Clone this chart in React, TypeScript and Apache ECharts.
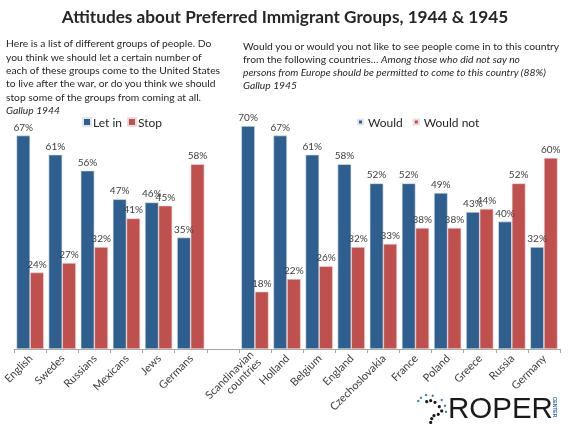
import React, { useEffect, useRef } from "react";
import * as echarts from "echarts";

const categories = [
  "English", "Swedes", "Russians", "Mexicans", "Jews", "Germans", "",
  "Scandinavian\ncountries", "Holland", "Belgium", "England", "Czechoslovakia",
  "France", "Poland", "Greece", "Russia", "Germany",
];
const letIn = [67, 61, 56, 47, 46, 35, null, null, null, null, null, null, null, null, null, null, null];
const stop = [24, 27, 32, 41, 45, 58, null, null, null, null, null, null, null, null, null, null, null];
const would = [null, null, null, null, null, null, null, 70, 67, 61, 58, 52, 52, 49, 43, 40, 32];
const wouldNot = [null, null, null, null, null, null, null, 18, 22, 26, 32, 33, 38, 38, 44, 52, 60];

const title = "Attitudes about Preferred Immigrant Groups, 1944 & 1945";
const leftLines = [
  "Here is a list of different groups of people. Do",
  "you think we should let a certain number of",
  "each of these groups come to the United States",
  "to live after the war, or do you think we should",
  "stop some of the groups from coming at all.",
];
const leftSource = "Gallup 1944";
const rightLine1 = "Would you or would you not like to see people come in to this country";
const rightLine2a = "from the following countries… ";
const rightLine2b = "Among those who did not say no";
const rightLine3 = "persons from Europe should be permitted to come to this country (88%)";
const rightSource = "Gallup 1945";

const BLUE = "#2F5F8F";
const RED = "#C0504D";
const TEXT = "#262626";
const FONT = "Lato, 'Open Sans', sans-serif";

const logoBlack = [
  [426.7, 401.7], [430.7, 400.7], [435, 402.3], [439.3, 406.7], [441.7, 411],
  [438.3, 414.3], [434, 415.7], [431.7, 418.7], [430.7, 422.5],
];
const logoBlue = [
  [418.3, 401], [421, 397.7], [426, 395], [432.7, 395.7], [441.7, 400],
  [445, 405.7], [446, 411.7],
];

export default function App() {
  const ref = useRef<HTMLDivElement>(null);
  useEffect(() => {
    if (!ref.current) return;
    const chart = echarts.init(ref.current, undefined, { renderer: "svg" });
    const paraSize = 10.3;
    const graphics: any[] = [];
    graphics.push({
      type: "text", left: "center", top: 8,
      style: { text: title, fontFamily: FONT, fontSize: 17.2, fontWeight: "bold", fill: TEXT },
    });
    const leftY = [43, 57, 70, 83, 97];
    leftLines.forEach((t, i) => {
      graphics.push({
        type: "text", x: 6, y: leftY[i],
        style: { text: t, fontFamily: FONT, fontSize: paraSize, fill: TEXT, verticalAlign: "middle" },
      });
    });
    graphics.push({
      type: "text", x: 6, y: 110,
      style: { text: leftSource, fontFamily: FONT, fontSize: paraSize, fontStyle: "italic", fill: TEXT, verticalAlign: "middle" },
    });
    graphics.push({
      type: "text", x: 243, y: 46,
      style: { text: rightLine1, fontFamily: FONT, fontSize: paraSize, fill: TEXT, verticalAlign: "middle" },
    });
    graphics.push({
      type: "text", x: 243, y: 59,
      style: {
        text: "{n|" + rightLine2a + "}{i|" + rightLine2b + "}",
        verticalAlign: "middle",
        rich: {
          n: { fontFamily: FONT, fontSize: paraSize, fill: TEXT, color: TEXT },
          i: { fontFamily: FONT, fontSize: paraSize, fontStyle: "italic", fill: TEXT, color: TEXT },
        },
      },
    });
    graphics.push({
      type: "text", x: 243, y: 72,
      style: { text: rightLine3, fontFamily: FONT, fontSize: paraSize, fontStyle: "italic", fill: TEXT, verticalAlign: "middle" },
    });
    graphics.push({
      type: "text", x: 243, y: 85,
      style: { text: rightSource, fontFamily: FONT, fontSize: paraSize, fontStyle: "italic", fill: TEXT, verticalAlign: "middle" },
    });
    // logo
    graphics.push({
      type: "text", x: 448, y: 407,
      style: { text: "ROPER", fontFamily: "'Liberation Sans', Arial, sans-serif", fontSize: 29.5, fill: "#1a1a1a", verticalAlign: "middle" },
    });
    graphics.push({
      type: "text", x: 555, y: 407, rotation: -Math.PI / 2,
      style: { text: "CENTER", fontFamily: "'Liberation Sans', sans-serif", fontSize: 5, fontWeight: "bold", fill: "#2a6fb0", align: "center", verticalAlign: "middle" },
    });
    logoBlack.forEach(([x, y]) => {
      graphics.push({ type: "circle", shape: { cx: x, cy: y, r: 1.6 }, style: { fill: "#1a1a1a" } });
    });
    logoBlue.forEach(([x, y]) => {
      graphics.push({ type: "circle", shape: { cx: x, cy: y, r: 1.2 }, style: { fill: "#3a7dc0" } });
    });

    const labelCfg = {
      show: true, position: "top", distance: 4, formatter: "{c}%",
      fontFamily: FONT, fontSize: 10, color: "#404040",
    };
    const barBase = {
      type: "bar", barGap: "0%", barCategoryGap: "15%",
      label: labelCfg,
    };
    chart.setOption({
      animation: false,
      textStyle: { fontFamily: FONT },
      grid: { left: 12, right: 10, top: 126, bottom: 78 },
      legend: [
        {
          data: ["Let in", "Stop"], left: 82, top: 116, padding: 0, itemWidth: 8, itemHeight: 8, itemGap: 5,
          icon: "rect", textStyle: { fontFamily: FONT, fontSize: 12, color: TEXT, padding: [0, 0, 0, -3] },
          selectedMode: false,
        },
        {
          data: ["Would", "Would not"], left: 357, top: 116, padding: 0, itemWidth: 5, itemHeight: 5, itemGap: 10,
          icon: "rect", textStyle: { fontFamily: FONT, fontSize: 12, color: TEXT },
          selectedMode: false,
        },
      ],
      xAxis: {
        type: "category", data: categories,
        axisLine: { lineStyle: { color: "#A6A6A6", width: 1 } },
        axisTick: { show: true, interval: 0, length: 4, lineStyle: { color: "#A6A6A6" } },
        axisLabel: { interval: 0, rotate: 45, fontFamily: FONT, fontSize: 11, color: "#404040", margin: 7 },
      },
      yAxis: { type: "value", min: 0, max: 70, show: false, splitLine: { show: false } },
      graphic: graphics,
      series: [
        { ...barBase, name: "Let in", stack: "a", data: letIn, itemStyle: { color: BLUE, borderColor: "#dfe6ee", borderWidth: 0.6 } },
        { ...barBase, name: "Stop", stack: "b", data: stop, itemStyle: { color: RED, borderColor: "#f0dada", borderWidth: 0.6 } },
        { ...barBase, name: "Would", stack: "a", data: would, itemStyle: { color: BLUE, borderColor: "#dfe6ee", borderWidth: 0.6 } },
        { ...barBase, name: "Would not", stack: "b", data: wouldNot, itemStyle: { color: RED, borderColor: "#f0dada", borderWidth: 0.6 } },
      ],
    });
    return () => chart.dispose();
  }, []);
  return <div ref={ref} style={{ position: "fixed", left: 0, top: 0, width: 570, height: 427 }} />;
}
